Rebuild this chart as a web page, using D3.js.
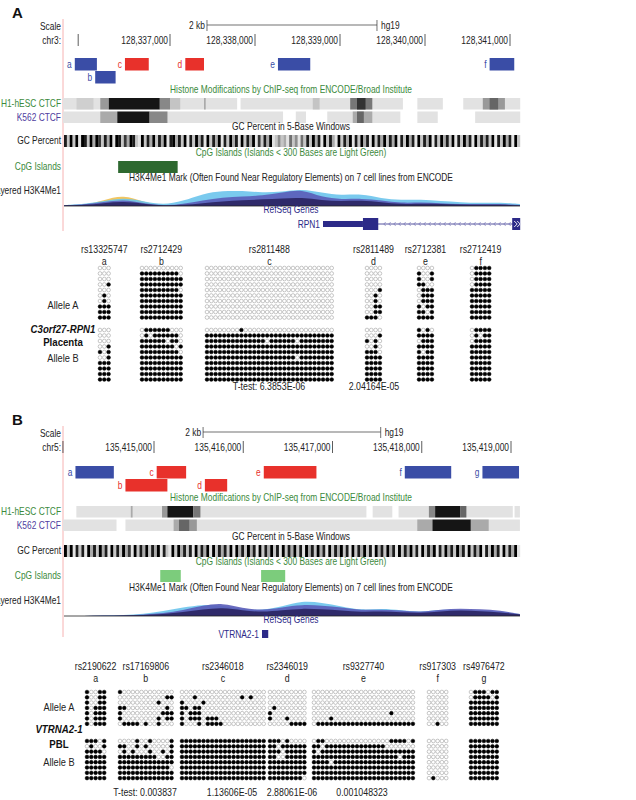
<!DOCTYPE html>
<html>
<head>
<meta charset="utf-8">
<script src="https://d3js.org/d3.v7.min.js"></script>
<style>
  body { margin: 0; background: #fff; }
  text { font-family: "Liberation Sans", Arial, sans-serif; }
</style>
</head>
<body>
<svg id="fig" width="636" height="800"></svg>
<script>
// ---------- data: panel A (chr3, positions in kb of 128,3xx,xxx) ----------
var ticksA = [337, 338, 339, 340, 341];
var tickLabelsA = ["128,337,000", "128,338,000", "128,339,000", "128,340,000", "128,341,000"];
var ampA = [
  {id: "a", s: 335.88, e: 336.14, row: 0, c: "blue"},
  {id: "b", s: 336.12, e: 336.36, row: 1, c: "blue"},
  {id: "c", s: 336.47, e: 336.75, row: 0, c: "red"},
  {id: "d", s: 337.18, e: 337.40, row: 0, c: "red"},
  {id: "e", s: 338.27, e: 338.65, row: 0, c: "blue"},
  {id: "f", s: 340.76, e: 341.05, row: 0, c: "blue"}
];
var h1A = [[335.74, 337.79, "#e2e2e2"], [337.83, 339.74, "#e2e2e2"], [339.91, 340.21, "#e2e2e2"], [340.45, 341.12, "#e2e2e2"],
  [336.18, 336.28, "#999"], [335.90, 336.10, "#cfcfcf"], [336.28, 336.88, "#151515"], [336.88, 337.00, "#888"], [337.00, 337.12, "#c4c4c4"],
  [337.40, 337.42, "#aaa"], [338.68, 338.76, "#c4c4c4"], [339.12, 339.38, "#777"], [339.20, 339.30, "#333"], [340.68, 340.94, "#999"], [340.76, 340.86, "#666"]];
var k562A = [[335.74, 338.33, "#e2e2e2"], [338.48, 338.60, "#e2e2e2"], [338.85, 339.71, "#e2e2e2"], [339.91, 340.15, "#e2e2e2"], [340.59, 341.12, "#e2e2e2"],
  [336.18, 336.38, "#aaa"], [336.38, 336.76, "#151515"], [336.76, 336.97, "#888"], [339.15, 339.38, "#aaa"], [339.20, 339.28, "#666"]];
var gcA = "8292919829397283919827398219283928391893829182938192839182938192839172839124231524152829381928319283918293819283928391829381928391829382918293819283829182938192";
var cpgA = [[336.39, 337.09, "#2e6930"]];
var layersA = [
  {c: "#f0c050", v: [0, 0.05, 0.3, 0.6, 0.2, 0, 0, 0, 0, 0, 0, 0, 0, 0, 0, 0, 0, 0, 0, 0, 0, 0, 0, 0]},
  {c: "#6cc4ec", v: [0.05, 0.1, 0.25, 0.45, 0.25, 0.05, 0.25, 0.65, 0.8, 0.8, 0.7, 0.75, 0.9, 0.7, 0.55, 0.65, 0.4, 0.3, 0.35, 0.25, 0.2, 0.15, 0.2, 0.1]},
  {c: "#5a5cb8", v: [0.04, 0.08, 0.2, 0.35, 0.15, 0.02, 0.1, 0.3, 0.45, 0.5, 0.55, 0.7, 0.9, 0.45, 0.35, 0.4, 0.3, 0.15, 0.2, 0.15, 0.1, 0.1, 0.12, 0.05]},
  {c: "#2a2360", v: [0.03, 0.05, 0.15, 0.25, 0.12, 0.02, 0.05, 0.15, 0.25, 0.3, 0.35, 0.4, 0.45, 0.3, 0.25, 0.3, 0.2, 0.1, 0.12, 0.1, 0.08, 0.06, 0.08, 0.03]}
];
var geneA = {name: "RPN1", s: 338.80, e: 341.12, thickS: 339.27, thickE: 339.45};

var snpsA = ["rs13325747", "rs2712429", "rs2811488", "rs2811489", "rs2712381", "rs2712419"];
var lettersA = ["a", "b", "c", "d", "e", "f"];
var alleleA_A = [
  ["000","000","000","001","000","010","010","111","111","111"],
  ["0000000000","1111111110","1111111111","1111111111","1111111110","1111111111","1111111111","1111111111","1111111111","1111111111"],
  ["000000000000000000000000000000","000000000000000000000000000000","000000000000000000000000000000","000000000000000000000000000000","000000000000000000000000000000",
   "000000000000000000000000000000","000000000000000000000000000000","000000000000000000000000000000","000000000000000000000000000000","000000000000000000000000000000"],
  ["0000","0000","0000","0000","0001","0010","0010","0011","0011","1110"],
  ["0000","1001","1001","1100","0111","0111","0111","1011","1101","1111"],
  ["01111","01111","01111","01111","11111","11111","11111","11111","11111","11111"]
];
var alleleB_A = [
  ["000","000","000","001","101","001","111","111","111","111"],
  ["0111111000","0101111110","1111110110","1111111101","1111111110","1111111111","1111111111","1111111111","1111111111","1111111111"],
  ["000000001000000000000000000000","111111111111111111111111111111","111111111111110111111011111111","111111111111111111111111111111","111111111111111111111111111111",
   "111111111111111111111011111111","111111111111111111111111111111","111111111111111111111111111111","111111111111111111111111111111","111111111111111111111111111111"],
  ["0000","0001","1010","0010","1110","1111","1111","1111","1111","1111"],
  ["1010","1111","0111","1111","1011","1111","1111","1111","1111","1111"],
  ["01111","01011","01111","11111","11111","11111","11111","11111","11111","11111"]
];
var pvalsA = ["T-test:  6.3853E-06", "2.04164E-05"];

// ---------- data: panel B (chr5, positions in kb of 135,4xx,xxx) ----------
var ticksB = [415, 416, 417, 418, 419];
var tickLabelsB = ["135,415,000", "135,416,000", "135,417,000", "135,418,000", "135,419,000"];
var ampB = [
  {id: "a", s: 414.12, e: 414.55, row: 0, c: "blue"},
  {id: "b", s: 414.68, e: 415.15, row: 1, c: "red"},
  {id: "c", s: 415.03, e: 415.36, row: 0, c: "red"},
  {id: "d", s: 415.57, e: 415.82, row: 1, c: "red"},
  {id: "e", s: 416.23, e: 416.82, row: 0, c: "red"},
  {id: "f", s: 417.81, e: 418.33, row: 0, c: "blue"},
  {id: "g", s: 418.68, e: 419.09, row: 0, c: "blue"}
];
var h1B = [[414.13, 417.38, "#e2e2e2"], [417.45, 417.67, "#e2e2e2"], [417.74, 419.02, "#e2e2e2"], [419.04, 419.10, "#e2e2e2"],
  [414.74, 414.76, "#aaa"], [415.09, 415.15, "#999"], [415.15, 415.44, "#151515"], [415.44, 415.52, "#777"],
  [418.08, 418.15, "#888"], [418.15, 418.43, "#151515"], [418.43, 418.50, "#666"]];
var k562B = [[413.98, 414.58, "#e2e2e2"], [414.68, 419.10, "#e2e2e2"],
  [415.22, 415.28, "#aaa"], [415.28, 415.40, "#666"], [415.40, 415.48, "#999"],
  [417.95, 418.12, "#aaa"], [418.12, 418.55, "#151515"], [418.55, 418.75, "#aaa"]];
var gcB = "9291828193829381928293719283928391821929382819283919283829193829381928392819283928193829381928392819283928193829381928392819283918293829381928391829381928391";
var cpgB = [[415.07, 415.30, "#7ccc7c"], [416.20, 416.47, "#7ccc7c"]];
var layersB = [
  {c: "#6cc4ec", v: [0, 0, 0.02, 0.05, 0.1, 0.25, 0.45, 0.6, 0.55, 0.35, 0.3, 0.5, 0.8, 0.7, 0.5, 0.3, 0.4, 0.3, 0.2, 0.35, 0.3, 0.3, 0.25, 0.1]},
  {c: "#5a5cb8", v: [0, 0, 0.02, 0.04, 0.08, 0.15, 0.3, 0.55, 0.7, 0.4, 0.3, 0.45, 0.6, 0.55, 0.45, 0.3, 0.35, 0.3, 0.2, 0.35, 0.4, 0.35, 0.3, 0.1]},
  {c: "#2a2360", v: [0, 0, 0.01, 0.03, 0.05, 0.1, 0.2, 0.35, 0.45, 0.3, 0.2, 0.3, 0.4, 0.35, 0.3, 0.2, 0.25, 0.2, 0.15, 0.25, 0.3, 0.25, 0.2, 0.08]}
];
var geneB = {name: "VTRNA2-1", s: 416.21, e: 416.28};

var snpsB = ["rs2190622", "rs17169806", "rs2346018", "rs2346019", "rs9327740", "rs917303", "rs4976472"];
var lettersB = ["a", "b", "c", "d", "e", "f", "g"];
var alleleA_B = [
  ["10011","10011","10011","10111","10111","10111","10111"],
  ["1000000000000","0000000000011","0000000001000","1100000000010","1000000000111","1000000001011","0111101001000"],
  ["00000000000000000000","00010000000000101000","10000100000000000000","11011000000000000000","10111000000000000000","10111011100000000000","10001011110000000000"],
  ["000000000","000000000","000000000","010000000","100000000","100010000","000001111"],
  ["000000000000000000000000","000000000000000000000000","000000000000000000000000","000000000000000000000000","000000000000000000100000","000010000000000000000000","011111111111111111111111"],
  ["00000","00000","00000","00000","00000","00000","00100"],
  ["0111011","0111101","1111111","1111111","1111111","1111111","1111111"]
];
var alleleB_B = [
  ["11101","01001","11110","11111","11111","11111","11111","11111"],
  ["0000100100001","1100101000001","0101000100101","1111111110011","1111111111111","1111111111110","1111111111111","1111111111111"],
  ["11111111111111111111","11111111111111111111","11111111111111111111","11111111111111111111","11111111111111111111","11111111111111111111","11111111111111111111","11111111111111111111"],
  ["111010000","110111111","111011111","110011111","111111111","111111111","111111111","111111110"],
  ["011000000000000000111101","110111111111111110000000","101111111111111111111111","111111111111111111110111","111101111111111111111111","111111111111111111111111","111111111111111111111111","111111111111111111111111"],
  ["00000","00000","00000","00000","00000","00000","00000","01000"],
  ["1111111","1111111","1111111","1111111","1111111","1111111","1111111","1111111"]
];
var pvalsB = ["T-test:  0.003837", "1.13606E-05", "2.88061E-06", "0.001048323"];

// ---------- drawing ----------
var svg = d3.select("#fig");
var colors = {blue: "#3a4da6", red: "#e8312b"};
var green = "#3c8a3c";
var NARROW = 0.84;

// text squeezed horizontally to mimic the narrow browser font
function txt(x, y, s, opt) {
  opt = opt || {};
  var sx = opt.sx || NARROW;
  return svg.append("text").attr("transform", `translate(${x},${y}) scale(${sx},1)`).text(s)
    .attr("font-size", opt.size || 10)
    .attr("text-anchor", opt.anchor || "start")
    .attr("fill", opt.fill || "#222")
    .attr("font-weight", opt.weight || "normal")
    .attr("font-style", opt.style || "normal");
}

function browser(o) {
  var y0 = o.y;
  var x = d3.scaleLinear().domain(o.tickDomain).range(o.tickRange);
  var L = 63, R = 520;

  txt(12, y0 + 2, o.id, {size: 15, weight: "bold", fill: "#111", sx: 1});
  svg.append("line").attr("x1", L).attr("x2", L).attr("y1", y0 + 3).attr("y2", y0 + o.lineLen)
    .attr("stroke", "#f4a0a0").attr("stroke-width", 0.8);

  // scale bar
  var sb = o.scaleBar;
  txt(61, y0 + 14, "Scale", {anchor: "end"});
  svg.append("path").attr("d", `M${x(sb[0])},${y0 + 4}V${y0 + 15}M${x(sb[0])},${y0 + 9}H${x(sb[1])}M${x(sb[1])},${y0 + 4}V${y0 + 15}`)
    .attr("stroke", "#333").attr("fill", "none").attr("stroke-width", 0.7);
  txt(x(sb[0]) - 2, y0 + 13, "2 kb", {anchor: "end"});
  txt(x(sb[1]) + 4, y0 + 13, "hg19");

  // chromosome ticks
  txt(61, y0 + 28, o.chr, {anchor: "end"});
  var ax = svg.append("g").attr("transform", `translate(0,${y0 + 18})`);
  var tickAll = o.extraTick ? [o.extraTick].concat(o.ticks) : o.ticks;
  ax.selectAll("line").data(tickAll).join("line")
    .attr("x1", d => x(d)).attr("x2", d => x(d)).attr("y1", 0).attr("y2", 12)
    .attr("stroke", "#333").attr("stroke-width", 0.8);
  ax.selectAll("text").data(o.ticks).join("text")
    .attr("transform", d => `translate(${x(d) - 2},10) scale(${NARROW},1)`).attr("text-anchor", "end")
    .attr("font-size", 10).attr("fill", "#222").text((d, i) => o.tickLabels[i]);

  // amplicons
  var ay = y0 + o.ampY;
  o.amp.forEach(function (a) {
    var yy = ay + a.row * 13;
    svg.append("rect").attr("x", x(a.s)).attr("y", yy).attr("width", x(a.e) - x(a.s)).attr("height", 12.5)
      .attr("fill", colors[a.c]);
    txt(x(a.s) - 3, yy + 10, a.id, {anchor: "end", fill: colors[a.c]});
  });

  // histone tracks
  var hy = y0 + o.histY;
  txt(291, hy, "Histone Modifications by ChIP-seq from ENCODE/Broad Institute", {anchor: "middle", fill: green});
  [[o.h1, "H1-hESC CTCF", green], [o.k562, "K562 CTCF", "#5040a0"]].forEach(function (t, i) {
    var ty = hy + 5 + i * 13.5;
    svg.append("g").selectAll("rect").data(t[0]).join("rect")
      .attr("x", d => x(d[0])).attr("width", d => x(d[1]) - x(d[0]))
      .attr("y", ty).attr("height", 11.5).attr("fill", d => d[2]);
    txt(61, ty + 9, t[1], {anchor: "end", fill: t[2]});
  });

  // GC percent
  var gy = y0 + o.gcY;
  txt(291, gy, "GC Percent in 5-Base Windows", {anchor: "middle"});
  txt(61, gy + 14, "GC Percent", {anchor: "end"});
  var gcVals = o.gc.split("").map(Number);
  var gx = d3.scaleBand().domain(d3.range(gcVals.length)).range([L + 1, R]);
  var gshade = d3.scaleLinear().domain([0, 9]).range(["#fff", "#000"]);
  svg.append("g").selectAll("rect").data(gcVals).join("rect")
    .attr("x", (d, i) => gx(i)).attr("width", gx.bandwidth() + 0.2)
    .attr("y", gy + 5).attr("height", 12).attr("fill", d => gshade(d));

  // CpG islands
  var cy = y0 + o.cpgY;
  txt(291, cy, "CpG Islands (Islands < 300 Bases are Light Green)", {anchor: "middle", fill: green});
  txt(61, cy + 14, "CpG Islands", {anchor: "end", fill: green});
  svg.append("g").selectAll("rect").data(o.cpg).join("rect")
    .attr("x", d => x(d[0])).attr("width", d => x(d[1]) - x(d[0]))
    .attr("y", cy + 5).attr("height", 12).attr("fill", d => d[2]);

  // H3K4Me1 layered
  var ly = y0 + o.layY;
  txt(291, ly, "H3K4Me1 Mark (Often Found Near Regulatory Elements) on 7 cell lines from ENCODE", {anchor: "middle"});
  txt(61, ly + 13, ".ayered H3K4Me1", {anchor: "end"});
  var n = o.layers[0].v.length;
  var lx = d3.scaleLinear().domain([0, n - 1]).range([L + 1, R]);
  var base = ly + 25, yv = d3.scaleLinear().domain([0, 1]).range([base, base - 19]);
  o.layers.forEach(function (lay) {
    svg.append("path").datum(lay.v)
      .attr("d", d3.area().x((d, i) => lx(i)).y0(base).y1(d => yv(d)).curve(d3.curveBasis))
      .attr("fill", lay.c).attr("opacity", 0.9);
  });
  svg.append("line").attr("x1", L + 1).attr("x2", R).attr("y1", base).attr("y2", base).attr("stroke", "#222").attr("stroke-width", 0.8);

  // RefSeq genes
  var ry = y0 + o.refY;
  txt(291, ry, "RefSeq Genes", {anchor: "middle", fill: "#2c2a88"});
  var g = o.gene;
  var my = ry + 11;
  if (g.thickS) {
    svg.append("line").attr("x1", x(g.s)).attr("x2", x(g.e)).attr("y1", my).attr("y2", my).attr("stroke", "#2c2a88").attr("stroke-width", 0.8);
    svg.append("rect").attr("x", x(g.s)).attr("width", x(g.thickS) - x(g.s)).attr("y", my - 3).attr("height", 6).attr("fill", "#2c2a88");
    svg.append("rect").attr("x", x(g.thickS)).attr("width", x(g.thickE) - x(g.thickS)).attr("y", my - 6).attr("height", 12).attr("fill", "#2c2a88");
    var arr = d3.range(x(g.thickE) + 6, x(g.e) - 10, 5);
    svg.append("g").selectAll("path").data(arr).join("path")
      .attr("d", d => `M${d + 1.5},${my - 2}L${d - 0.5},${my}L${d + 1.5},${my + 2}`)
      .attr("stroke", "#6a68b0").attr("fill", "none").attr("stroke-width", 0.6);
    svg.append("rect").attr("x", x(g.e) - 8).attr("width", 8).attr("y", my - 6).attr("height", 12).attr("fill", "#2c2a88");
    svg.append("path").attr("d", `M${x(g.e) - 6},${my - 3}L${x(g.e) - 3},${my}L${x(g.e) - 6},${my + 3}M${x(g.e) - 3},${my - 3}L${x(g.e)},${my}L${x(g.e) - 3},${my + 3}`)
      .attr("stroke", "#fff").attr("fill", "none").attr("stroke-width", 0.9);
  } else {
    svg.append("rect").attr("x", x(g.s)).attr("width", x(g.e) - x(g.s)).attr("y", my - 4).attr("height", 8).attr("fill", "#2c2a88");
  }
  txt(x(g.s) - 3, my + 3.5, g.name, {anchor: "end", fill: "#2c2a88"});
}

function dots(o) {
  var dx = 4.3, dy = o.dy;
  o.snps.forEach(function (rs, i) {
    var left = o.blockX[i];
    var cols = o.A[i][0].length;
    var cx = left + (cols - 1) * dx / 2;
    txt(cx, o.y, rs, {anchor: "middle", size: 10.5});
    txt(cx, o.y + 12, o.letters[i], {anchor: "middle", size: 10.5});
    [[o.A[i], o.yA], [o.B[i], o.yB]].forEach(function (blk) {
      var cells = [];
      blk[0].forEach((row, r) => row.split("").forEach((v, c) => cells.push({r: r, c: c, v: +v})));
      svg.append("g").selectAll("circle").data(cells).join("circle")
        .attr("cx", d => left + d.c * dx).attr("cy", d => blk[1] + d.r * dy).attr("r", 1.85)
        .attr("fill", d => d.v ? "#000" : "#fff")
        .attr("stroke", d => d.v ? "#000" : "#999").attr("stroke-width", 0.55);
    });
  });
  txt(o.lx, o.labels[0], "Allele A", {anchor: "middle", size: 11});
  txt(o.lx, o.labels[1], o.gene, {anchor: "middle", size: 10.5, weight: "bold", style: "italic", fill: "#111", sx: 0.92});
  txt(o.lx, o.labels[2], o.tissue, {anchor: "middle", size: 10.5, weight: "bold", fill: "#111", sx: 0.92});
  txt(o.lx, o.labels[3], "Allele B", {anchor: "middle", size: 11});
  o.pvals.forEach((p, i) => txt(o.pX[i], o.pY, p, {anchor: "middle", size: 10.5}));
}

browser({id: "A", y: 16, lineLen: 215, chr: "chr3:", ticks: ticksA, tickLabels: tickLabelsA, extraTick: 335.92,
  tickDomain: [337, 341], tickRange: [170, 510], scaleBar: [337.435, 339.435],
  amp: ampA, ampY: 42, h1: h1A, k562: k562A, histY: 77, gc: gcA, gcY: 114, cpg: cpgA, cpgY: 140,
  layers: layersA, layY: 165, gene: geneA, refY: 197});

browser({id: "B", y: 423, lineLen: 214, chr: "chr5:", ticks: ticksB, tickLabels: tickLabelsB, extraTick: 413.98,
  tickDomain: [415, 419], tickRange: [154, 511], scaleBar: [415.55, 417.54],
  amp: ampB, ampY: 43, h1: h1B, k562: k562B, histY: 78, gc: gcB, gcY: 117, cpg: cpgB, cpgY: 142,
  layers: layersB, layY: 168, gene: geneB, refY: 200});

dots({y: 253, snps: snpsA, letters: lettersA, A: alleleA_A, B: alleleB_A, dy: 5.5, yA: 268, yB: 330,
  blockX: [100, 142, 207, 367, 419, 472], labels: [309, 333, 346, 362], lx: 63, gene: "C3orf27-RPN1", tissue: "Placenta",
  pvals: pvalsA, pX: [269, 374], pY: 390});

dots({y: 670, snps: snpsB, letters: lettersB, A: alleleA_B, B: alleleB_B, dy: 5.3, yA: 692, yB: 741,
  blockX: [87, 120, 182, 270, 314, 429, 471], labels: [711, 733, 748, 766], lx: 59, gene: "VTRNA2-1", tissue: "PBL",
  pvals: pvalsB, pX: [145, 232, 292, 362], pY: 796});
</script>
</body>
</html>
